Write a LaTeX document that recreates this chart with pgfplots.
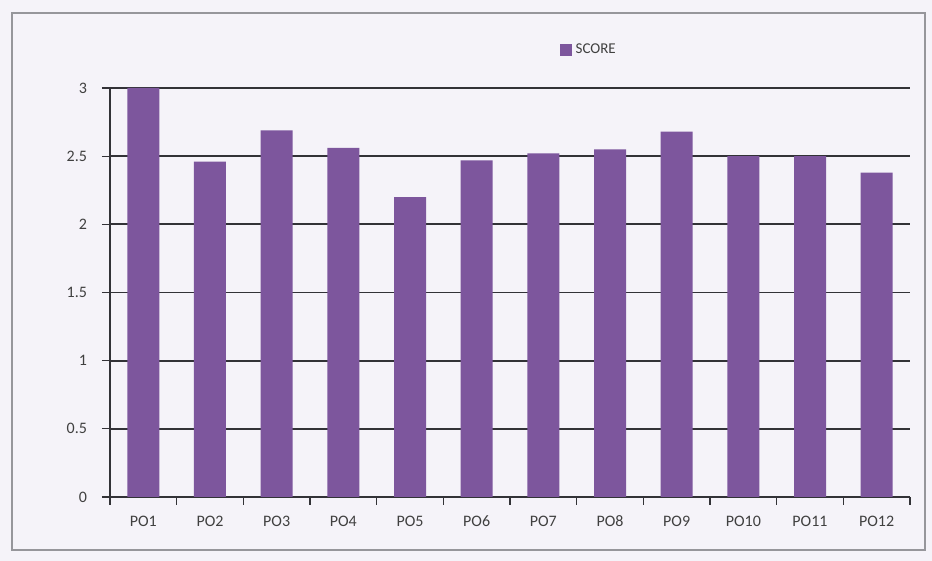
\documentclass[border=0pt]{standalone}
\usepackage{pgfplots}
\pgfplotsset{compat=1.18}
\usepackage{fontspec}
\setmainfont{Carlito}
\definecolor{barc}{RGB}{125,86,157}
\definecolor{bgc}{RGB}{245,243,249}
\definecolor{gridc}{RGB}{50,50,55}
\definecolor{framec}{RGB}{150,150,155}
\begin{document}
\begin{tikzpicture}
\path[use as bounding box] (-55pt,-32pt) rectangle (411pt,248.5pt);
\fill[bgc] (-55pt,-32pt) rectangle (411pt,248.5pt);
\draw[framec, line width=0.8pt] (-49pt,-26.5pt) rectangle (407.5pt,242pt);
\begin{axis}[
  at={(0,0)}, anchor=south west,
  scale only axis,
  width=400pt, height=204.5pt,
  ybar, bar width=16pt,
  xmin=-0.5, xmax=11.5,
  ymin=0, ymax=3,
  ytick={0,0.5,1,1.5,2,2.5,3},
  yticklabels={0,0.5,1,1.5,2,2.5,3},
  xtick={0,...,11},
  xticklabels={PO1,PO2,PO3,PO4,PO5,PO6,PO7,PO8,PO9,PO10,PO11,PO12},
  major x tick style={draw=none},
  minor xtick={-0.5,0.5,...,11.5},
  minor tick length=4pt,
  major tick length=4pt,
  tick align=outside,
  tick style={gridc, line width=0.6pt},
  axis x line*=bottom, axis y line*=left,
  axis line style={gridc, line width=0.6pt, -},
  ymajorgrids, grid style={gridc, line width=0.9pt},
  ticklabel style={font=\fontsize{8}{9}\selectfont, text=black!75},
  xticklabel style={yshift=-2pt},
  yticklabel style={xshift=-4pt},
  /pgf/number format/assume math mode=true,
  legend style={at={(0.6,1.093)}, anchor=center, draw=none, fill=none,
    font=\fontsize{7.5}{8}\selectfont, text=black!75},
  legend image code/.code={\fill[barc] (0cm,-0.1cm) rectangle (0.2cm,0.1cm);},
]
\addplot[fill=barc, draw=none] coordinates {
(0,3.0) (1,2.46) (2,2.69) (3,2.56) (4,2.20) (5,2.47)
(6,2.52) (7,2.55) (8,2.68) (9,2.50) (10,2.50) (11,2.38)};
\addlegendentry{SCORE}
\end{axis}
\end{tikzpicture}
\end{document}
